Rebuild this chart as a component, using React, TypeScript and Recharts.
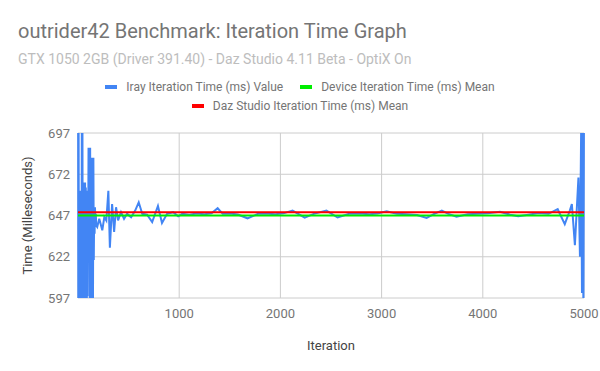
import { LineChart, Line, XAxis, YAxis, CartesianGrid, ReferenceLine, Label } from 'recharts';

const titleText = 'outrider42 Benchmark: Iteration Time Graph';
const subtitleText = 'GTX 1050 2GB (Driver 391.40) - Daz Studio 4.11 Beta - OptiX On';

const iterations = [
  1, 3, 6, 9, 12, 15, 18, 21, 25, 28, 32, 35, 38, 41, 44, 47, 50, 53, 57, 60,
  63, 67, 70, 74, 77, 80, 84, 87, 90, 94, 97, 100, 104, 108, 112, 116, 120, 124, 128, 132,
  136, 140, 144, 148, 152, 156, 160, 164, 168, 172, 176, 180, 190, 210, 240, 260, 280, 300, 315, 337,
  357, 376, 396, 425, 455, 485, 525, 565, 600, 635, 683, 733, 790, 830, 880, 940, 990, 1030, 1100, 1170,
  1250, 1320, 1380, 1430, 1500, 1580, 1675, 1780, 1850, 1950, 2030, 2120, 2240, 2330, 2455, 2565, 2680, 2780, 2880, 2960,
  3050, 3150, 3250, 3350, 3445, 3520, 3595, 3660, 3740, 3850, 3950, 4050, 4170, 4270, 4350, 4450, 4550, 4650, 4740, 4810,
  4860, 4880, 4910, 4945, 4960, 4972, 4980, 4988, 4994, 5000,
];

const irayTimes = [
  720, 590, 705, 585, 662, 590, 660, 580, 655, 595, 662, 588, 710, 592, 700, 585, 660, 600, 667, 590,
  665, 606, 667, 610, 664, 592, 660, 585, 662, 598, 660, 625, 688, 630, 684, 595, 688, 600, 670, 590,
  682, 595, 678, 592, 682, 620, 650, 636, 652, 640, 648, 641, 640, 645, 638, 646, 644, 662, 627.5, 654,
  637, 652, 644, 649, 645, 648, 646, 650, 655, 648, 647.5, 643, 652.8, 642.5, 648, 649, 646.5, 648, 647.5, 648.2,
  647.8, 648.3, 651.4, 648, 648.2, 647.6, 645.3, 648, 648.2, 647.8, 648.3, 650, 645.7, 648, 650, 645.8, 648, 648.2, 647.8, 648.2,
  649.5, 648, 647.8, 647.3, 645.5, 648, 650, 648, 646.3, 647.8, 648, 648.3, 649.3, 647.5, 646.5, 647.5, 648.5, 648, 650.8, 641.8,
  650, 654, 629, 670, 622, 700, 600, 710, 585, 715,
];

const xTicks = [1000, 2000, 3000, 4000, 5000];
const yTicks = [597, 622, 647, 672, 697];

const deviceMean = 647;
const dazMean = 649;

const seriesNames = ['Iray Iteration Time (ms) Value', 'Device Iteration Time (ms) Mean', 'Daz Studio Iteration Time (ms) Mean'];
const seriesColors = ['#4285f4', '#00ee00', '#ff0000'];

const data = iterations.map((iteration, i) => ({ iteration, iray: irayTimes[i] }));

const font = 'Roboto, Arial, sans-serif';

function LegendItem({ name, color }: { name: string; color: string }) {
  return (
    <div style={{ display: 'flex', alignItems: 'center' }}>
      <div style={{ width: 12, height: 4, background: color, marginRight: 9 }} />
      <span>{name}</span>
    </div>
  );
}

export default function App() {
  return (
    <div style={{ position: 'absolute', left: 0, top: 0, width: 600, height: 371, background: '#fff', fontFamily: font }}>
      <div style={{ position: 'absolute', left: 18, top: 21, fontSize: 20, lineHeight: '20px', color: '#757575', whiteSpace: 'nowrap' }}>{titleText}</div>
      <div style={{ position: 'absolute', left: 18, top: 52, fontSize: 14, lineHeight: '14px', color: '#bdbdbd', whiteSpace: 'nowrap' }}>{subtitleText}</div>
      <div style={{ position: 'absolute', left: 0, top: 81, width: 600, fontSize: 12, lineHeight: '12px', color: '#757575' }}>
        <div style={{ display: 'flex', justifyContent: 'center', gap: 17 }}>
          <LegendItem name={seriesNames[0]} color={seriesColors[0]} />
          <LegendItem name={seriesNames[1]} color={seriesColors[1]} />
        </div>
        <div style={{ display: 'flex', justifyContent: 'center', marginTop: 7 }}>
          <LegendItem name={seriesNames[2]} color={seriesColors[2]} />
        </div>
      </div>
      <LineChart width={600} height={371} data={data} margin={{ top: 133, right: 16, bottom: 43, left: 18 }} style={{ position: 'absolute', left: 0, top: 0 }}>
        <CartesianGrid stroke="#cccccc" horizontal vertical />
        <XAxis
          dataKey="iteration"
          type="number"
          domain={[0, 5000]}
          ticks={xTicks}
          axisLine={false}
          tickLine={false}
          tickMargin={5}
          height={30}
          tick={{ fill: '#757575', fontSize: 13, fontFamily: font }}
        >
          <Label value="Iteration" position="insideBottom" offset={-22} fill="#444444" fontSize={13} fontFamily={font} />
        </XAxis>
        <YAxis
          type="number"
          domain={[597, 697]}
          ticks={yTicks}
          allowDataOverflow
          axisLine={false}
          tickLine={false}
          width={60}
          tick={{ fill: '#757575', fontSize: 13, fontFamily: font }}
        >
          <Label value="Time (Milleseconds)" angle={-90} position="insideLeft" offset={9} fill="#444444" fontSize={13} fontFamily={font} style={{ textAnchor: 'middle' }} />
        </YAxis>
        <Line type="linear" dataKey="iray" stroke={seriesColors[0]} strokeWidth={2} dot={false} isAnimationActive={false} />
        <ReferenceLine y={deviceMean} stroke={seriesColors[1]} strokeWidth={2} />
        <ReferenceLine y={dazMean} stroke={seriesColors[2]} strokeWidth={2} />
      </LineChart>
    </div>
  );
}
